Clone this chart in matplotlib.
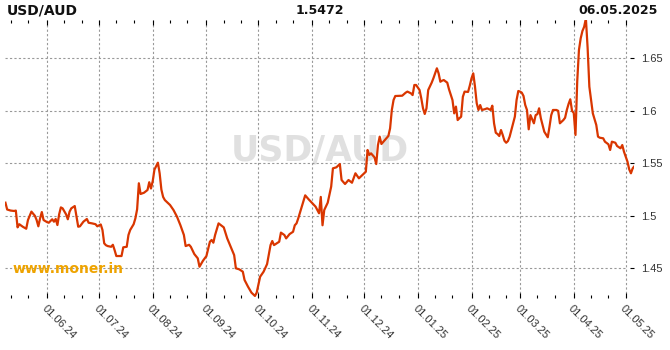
import pandas as pd
import matplotlib
matplotlib.use('Agg')
import matplotlib.pyplot as plt
import matplotlib.dates as mdates
import matplotlib.ticker as mticker

#%% data
pair = 'USD/AUD'
last_rate = '1.5472'
last_date = '06.05.2025'
site = 'www.moner.in'

dates = ['2024-05-08', '2024-05-09', '2024-05-11', '2024-05-13', '2024-05-14', '2024-05-15',
         '2024-05-16', '2024-05-18', '2024-05-20', '2024-05-21', '2024-05-23', '2024-05-25',
         '2024-05-26', '2024-05-27', '2024-05-28', '2024-05-29', '2024-05-30', '2024-06-01',
         '2024-06-02', '2024-06-04', '2024-06-05', '2024-06-06', '2024-06-07', '2024-06-08',
         '2024-06-09', '2024-06-10', '2024-06-12', '2024-06-13', '2024-06-14', '2024-06-15',
         '2024-06-17', '2024-06-18', '2024-06-19', '2024-06-20', '2024-06-22', '2024-06-24',
         '2024-06-25', '2024-06-27', '2024-06-29', '2024-06-30', '2024-07-02', '2024-07-03',
         '2024-07-04', '2024-07-05', '2024-07-06', '2024-07-08', '2024-07-09', '2024-07-10',
         '2024-07-11', '2024-07-14', '2024-07-15', '2024-07-17', '2024-07-18', '2024-07-19',
         '2024-07-21', '2024-07-22', '2024-07-23', '2024-07-24', '2024-07-25', '2024-07-27',
         '2024-07-29', '2024-07-30', '2024-07-31', '2024-08-01', '2024-08-02', '2024-08-04',
         '2024-08-05', '2024-08-06', '2024-08-07', '2024-08-08', '2024-08-11', '2024-08-13',
         '2024-08-15', '2024-08-17', '2024-08-19', '2024-08-20', '2024-08-22', '2024-08-23',
         '2024-08-25', '2024-08-27', '2024-08-28', '2024-08-30', '2024-09-01', '2024-09-03',
         '2024-09-04', '2024-09-05', '2024-09-06', '2024-09-08', '2024-09-11', '2024-09-13',
         '2024-09-15', '2024-09-17', '2024-09-18', '2024-09-20', '2024-09-22', '2024-09-23',
         '2024-09-25', '2024-09-27', '2024-09-29', '2024-09-30', '2024-10-02', '2024-10-04',
         '2024-10-06', '2024-10-08', '2024-10-09', '2024-10-10', '2024-10-13', '2024-10-14',
         '2024-10-16', '2024-10-17', '2024-10-19', '2024-10-21', '2024-10-22', '2024-10-23',
         '2024-10-24', '2024-10-26', '2024-10-28', '2024-10-30', '2024-11-03', '2024-11-05',
         '2024-11-06', '2024-11-07', '2024-11-08', '2024-11-10', '2024-11-12', '2024-11-13',
         '2024-11-15', '2024-11-17', '2024-11-18', '2024-11-20', '2024-11-22', '2024-11-24',
         '2024-11-26', '2024-11-28', '2024-12-01', '2024-12-02', '2024-12-03', '2024-12-04',
         '2024-12-05', '2024-12-07', '2024-12-08', '2024-12-09', '2024-12-10', '2024-12-11',
         '2024-12-13', '2024-12-15', '2024-12-16', '2024-12-17', '2024-12-18', '2024-12-19',
         '2024-12-23', '2024-12-25', '2024-12-26', '2024-12-28', '2024-12-29', '2024-12-30',
         '2024-12-31', '2025-01-02', '2025-01-03', '2025-01-04', '2025-01-05', '2025-01-06',
         '2025-01-07', '2025-01-09', '2025-01-10', '2025-01-11', '2025-01-12', '2025-01-13',
         '2025-01-14', '2025-01-15', '2025-01-16', '2025-01-18', '2025-01-19', '2025-01-21',
         '2025-01-22', '2025-01-23', '2025-01-24', '2025-01-25', '2025-01-26', '2025-01-27',
         '2025-01-28', '2025-01-30', '2025-01-31', '2025-02-01', '2025-02-02', '2025-02-03',
         '2025-02-04', '2025-02-05', '2025-02-06', '2025-02-07', '2025-02-09', '2025-02-10',
         '2025-02-12', '2025-02-13', '2025-02-14', '2025-02-15', '2025-02-16', '2025-02-17',
         '2025-02-18', '2025-02-19', '2025-02-20', '2025-02-21', '2025-02-22', '2025-02-23',
         '2025-02-25', '2025-02-26', '2025-02-27', '2025-02-28', '2025-03-01', '2025-03-02',
         '2025-03-03', '2025-03-04', '2025-03-05', '2025-03-06', '2025-03-07', '2025-03-08',
         '2025-03-09', '2025-03-10', '2025-03-11', '2025-03-12', '2025-03-13', '2025-03-14',
         '2025-03-15', '2025-03-17', '2025-03-18', '2025-03-19', '2025-03-20', '2025-03-22',
         '2025-03-23', '2025-03-24', '2025-03-26', '2025-03-27', '2025-03-28', '2025-03-29',
         '2025-03-30', '2025-03-31', '2025-04-01', '2025-04-02', '2025-04-03', '2025-04-04',
         '2025-04-05', '2025-04-06', '2025-04-07', '2025-04-08', '2025-04-09', '2025-04-10',
         '2025-04-11', '2025-04-12', '2025-04-14', '2025-04-15', '2025-04-16', '2025-04-18',
         '2025-04-19', '2025-04-21', '2025-04-22', '2025-04-23', '2025-04-25', '2025-04-26',
         '2025-04-28', '2025-04-29', '2025-04-30', '2025-05-02', '2025-05-03', '2025-05-04',
         '2025-05-05', '2025-05-06']

rates = [1.5125, 1.506, 1.505, 1.5046, 1.505, 1.489,
         1.492, 1.4896, 1.4877, 1.496, 1.504, 1.500,
         1.496, 1.490, 1.4976, 1.5036, 1.496, 1.494,
         1.4934, 1.4967, 1.4944, 1.497, 1.4912, 1.5014,
         1.508, 1.5071, 1.5014, 1.4967, 1.5039, 1.5071,
         1.5093, 1.4992, 1.4896, 1.490, 1.4944, 1.497,
         1.4934, 1.4928, 1.492, 1.490, 1.4918, 1.4865,
         1.4738, 1.472, 1.4712, 1.4705, 1.4724, 1.4674,
         1.4617, 1.4617, 1.470, 1.4705, 1.4817, 1.4865,
         1.492, 1.4976, 1.5062, 1.531, 1.5208, 1.522,
         1.5246, 1.532, 1.526, 1.533, 1.544, 1.5506,
         1.5405, 1.525, 1.518, 1.515, 1.5103, 1.5055,
         1.4992, 1.491, 1.4817, 1.4712, 1.4724, 1.4705,
         1.4636, 1.4595, 1.4515, 1.4572, 1.4617, 1.4753,
         1.477, 1.4744, 1.4817, 1.4928, 1.489, 1.4785,
         1.4705, 1.4626, 1.450, 1.449, 1.4468, 1.4389,
         1.4325, 1.4268, 1.4237, 1.4268, 1.442, 1.4468,
         1.454, 1.4721, 1.476, 1.4721, 1.4753, 1.484,
         1.4817, 1.4785, 1.4826, 1.4848, 1.491, 1.4928,
         1.4976, 1.5087, 1.5195, 1.5157, 1.5087, 1.5024,
         1.518, 1.491, 1.5055, 1.5125, 1.5278, 1.5452,
         1.5462, 1.5493, 1.5341, 1.5303, 1.5341, 1.5315,
         1.5405, 1.5357, 1.5405, 1.542, 1.5627, 1.558,
         1.5595, 1.5557, 1.5493, 1.5674, 1.5754, 1.5684,
         1.5722, 1.576, 1.5833, 1.6008, 1.6103, 1.6141,
         1.6144, 1.6173, 1.6183, 1.6167, 1.615, 1.6246,
         1.6246, 1.6198, 1.6119, 1.6024, 1.597, 1.6024,
         1.6198, 1.6268, 1.631, 1.6357, 1.6405, 1.6357,
         1.6277, 1.6287, 1.6293, 1.6268, 1.6205, 1.6103,
         1.5976, 1.604, 1.5912, 1.5929, 1.5944, 1.6134,
         1.6183, 1.618, 1.624, 1.631, 1.6357, 1.623,
         1.6072, 1.6008, 1.6055, 1.6008, 1.6017, 1.6024,
         1.6008, 1.6049, 1.5881, 1.5791, 1.5779, 1.576,
         1.5817, 1.577, 1.5715, 1.5696, 1.5712, 1.5754,
         1.5881, 1.5944, 1.6103, 1.6189, 1.6183, 1.6173,
         1.6141, 1.6055, 1.6008, 1.5824, 1.5959, 1.5919,
         1.5881, 1.5959, 1.5968, 1.6024, 1.5929, 1.5865,
         1.5801, 1.5748, 1.5849, 1.5959, 1.6008, 1.6008,
         1.600, 1.5881, 1.5912, 1.5934, 1.6008, 1.6065,
         1.611, 1.600, 1.598, 1.577, 1.628, 1.658,
         1.669, 1.676, 1.680, 1.688, 1.660, 1.623,
         1.6103, 1.5976, 1.5865, 1.5754, 1.5744, 1.5738,
         1.5706, 1.5681, 1.5627, 1.5706, 1.5696, 1.5665,
         1.5643, 1.5674, 1.561, 1.5516, 1.5443, 1.5405,
         1.5452, 1.5472]

y_ticks = [1.45, 1.5, 1.55, 1.6, 1.65]

#%%
x = pd.to_datetime(dates)
x_left = pd.Timestamp('2024-05-07 18:00')
x_right = pd.Timestamp('2025-05-06')
grid_end = pd.Timestamp('2025-05-01')

fig = plt.figure(figsize=(6.7, 3.5), dpi=100)
ax = fig.add_axes([5/670, 1-297.5/350, 629.4/670, 277.5/350])

ax.plot(x, rates, color='#d93600', linewidth=1.6, zorder=3)

ax.set_xlim(x_left, x_right)
ax.set_ylim(1.4222, 1.6865)

for s in ax.spines.values():
    s.set_visible(False)

ax.xaxis.set_major_locator(mdates.MonthLocator(bymonthday=1))
ax.xaxis.set_minor_locator(mdates.DayLocator(bymonthday=[11, 21]))
ax.xaxis.set_major_formatter(mdates.DateFormatter('%d.%m.%y'))
ax.xaxis.grid(True, which='major', color='#999999', linestyle=(0, (2, 2)), linewidth=0.8)
ax.hlines(y_ticks, x_left, grid_end, color='#999999', linestyle=(0, (2, 2)), linewidth=0.8, zorder=1)

ax.yaxis.tick_right()
ax.set_yticks(y_ticks)
ax.yaxis.set_major_formatter(mticker.FormatStrFormatter('%g'))

ax.tick_params(axis='x', which='both', top=True, bottom=True, direction='in',
               color='black', width=0.8, labelsize=8, labelcolor='#333333', pad=4)
ax.tick_params(axis='x', which='major', length=3.8)
ax.tick_params(axis='x', which='minor', length=2)
ax.tick_params(axis='y', which='major', direction='in', length=3, width=0.8,
               labelsize=8, labelcolor='#333333', pad=5)
for lab in ax.get_xticklabels():
    lab.set_rotation(-45)
    lab.set_ha('left')
    lab.set_va('top')
    lab.set_rotation_mode('anchor')
    lab.set_family('Liberation Sans')
for lab in ax.get_yticklabels():
    lab.set_family('Liberation Sans')

# watermark and captions
ax.text(0.5, 0.53, pair, transform=ax.transAxes, fontsize=25, fontweight='bold',
        color='#e0e0e0', ha='center', va='center', zorder=0)
ax.text(0.012, 0.104, site, transform=ax.transAxes, fontsize=10, fontweight='bold',
        color='#eea300', ha='left', va='center', zorder=2)

fig.text(7/670, 1-10/350, pair, fontsize=10, fontweight='bold', color='#111111', ha='left', va='center')
fig.text(320/670, 1-10/350, last_rate, fontsize=9, fontweight='bold', color='#111111', ha='center', va='center')
fig.text(658/670, 1-10/350, last_date, fontsize=9, fontweight='bold', color='#111111', ha='right', va='center')

plt.savefig('out.png', dpi=100)
